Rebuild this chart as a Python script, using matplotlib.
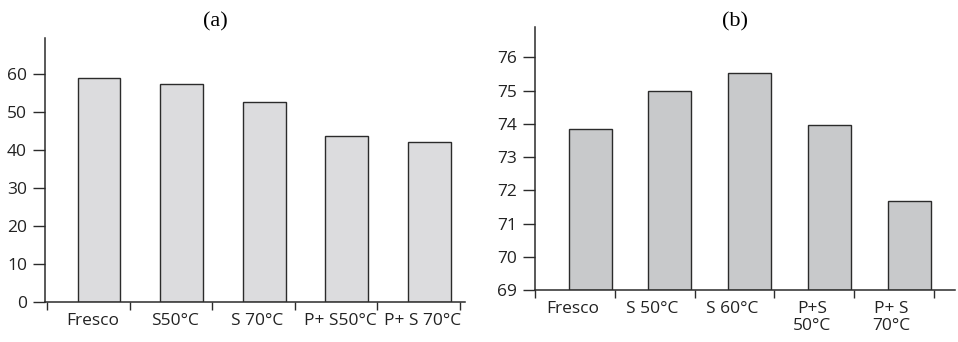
import matplotlib
matplotlib.use("Agg")
import matplotlib.pyplot as plt
import numpy as np

# datos (a)
cat_a = ["Fresco", "S50°C", "S 70°C", "P+ S50°C", "P+ S 70°C"]
val_a = [58.9, 57.4, 52.7, 43.8, 42.1]
# datos (b)
cat_b = ["Fresco", "S 50°C", "S 60°C", "P+S\n50°C", "P+ S\n70°C"]
val_b = [73.83, 75.0, 75.54, 73.95, 71.68]

plt.rcParams['font.family'] = ['Open Sans', 'DejaVu Sans']
edge = "#2b2b2b"

fig = plt.figure(figsize=(9.58, 3.42), dpi=100)
ax1 = fig.add_axes([0.047, 0.117, 0.438, 0.772])
ax2 = fig.add_axes([0.5585, 0.152, 0.4385, 0.77])

def estilo(ax, sep_off):
    for s in ["top", "right"]:
        ax.spines[s].set_visible(False)
    for s in ["left", "bottom"]:
        ax.spines[s].set_color(edge)
        ax.spines[s].set_linewidth(1.1)
    ax.tick_params(axis="y", direction="out", length=9, width=1, color=edge,
                   labelsize=12.5, pad=4, labelcolor="#222222")
    ax.tick_params(axis="x", which="major", length=0, labelsize=12.5, pad=8,
                   labelcolor="#222222")
    ax.tick_params(axis="x", which="minor", direction="out", length=6,
                   width=1, color=edge)
    ax.set_xticks(np.arange(6) + sep_off, minor=True)

# (a)
x = np.arange(len(val_a))
ax1.bar(x, val_a, width=0.52, color="#dcdcde", edgecolor=edge, linewidth=1)
ax1.set_xlim(-0.654, 4.43)
ax1.set_ylim(0, 69.5)
ax1.set_yticks(range(0, 61, 10))
ax1.set_xticks(x - 0.08)
ax1.set_xticklabels(cat_a)
estilo(ax1, -0.63)

# (b)
x = np.arange(len(val_b))
ax2.bar(x, np.array(val_b) - 69, bottom=69, width=0.54, color="#c8c9cb",
        edgecolor=edge, linewidth=1)
ax2.set_xlim(-0.675, 4.575)
ax2.set_ylim(69, 76.92)
ax2.set_yticks(range(69, 77))
ax2.set_xticks(x - 0.22)
ax2.set_xticklabels(cat_b, linespacing=1.05)
estilo(ax2, -0.69)

# titulos
fig.text(0.2244, 0.936, "(a)", family="Liberation Serif", fontsize=16,
         ha="center", va="center")
fig.text(0.767, 0.936, "(b)", family="Liberation Serif", fontsize=16,
         ha="center", va="center")

fig.savefig("out.png", dpi=100)
